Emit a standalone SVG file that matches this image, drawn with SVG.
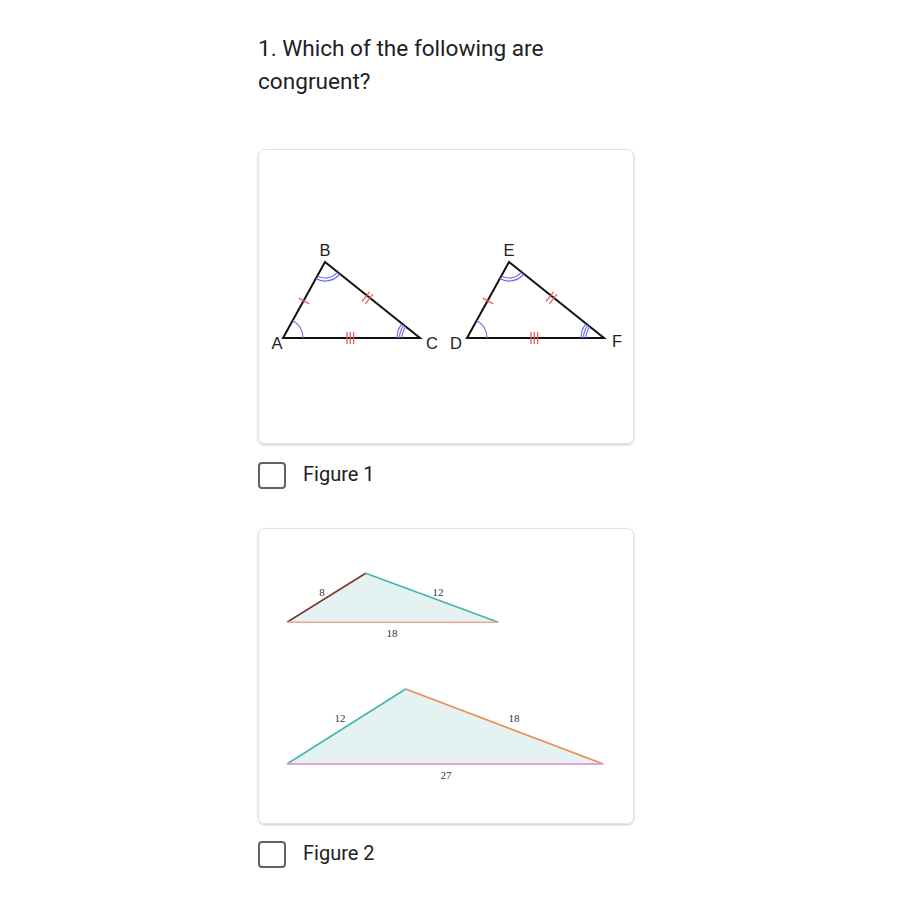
<svg xmlns="http://www.w3.org/2000/svg" xmlns:xlink="http://www.w3.org/1999/xlink" width="908" height="907" viewBox="0 0 908 907">
<defs>
<filter id="sh" x="-5%" y="-5%" width="110%" height="115%">
<feDropShadow dx="0" dy="1" stdDeviation="1.2" flood-color="#000" flood-opacity="0.22"/>
</filter>
<style>
.card{fill:#fff;stroke:#e3e3e3;stroke-width:1;filter:url(#sh)}
.q{font-family:Roboto,"Liberation Sans",sans-serif;font-size:22.6px;fill:#202124}
.opt{font-family:Roboto,"Liberation Sans",sans-serif;font-size:20px;fill:#202124}
.cb{fill:none;stroke:#5f6368;stroke-width:2}
.edge{fill:none;stroke:#111;stroke-width:2;stroke-linejoin:miter}
.tick{stroke:#e8605a;stroke-width:1.3;fill:none}
.arc{stroke:#7070e8;stroke-width:1.2;fill:none}
.lbl{font-family:"Liberation Sans",Arial,sans-serif;font-size:16.5px;fill:#222;text-anchor:middle}
.num{font-family:"Liberation Serif","Times New Roman",serif;font-size:11px;fill:#333;text-anchor:middle}
.fill{fill:#e5f2f2;stroke:none}
</style>
<g id="tri">
<path class="edge" d="M283 338 L325 262 L420 338 Z"/>
<path class="tick" d="M298.7 298.1 L309.3 303.9"/>
<path class="tick" d="M362.1 301.3 L369.5 291.9 M365.4 303.8 L372.8 294.4"/>
<path class="tick" d="M347 332 V344 M350.3 332 V344 M353.6 332 V344"/>
<path class="arc" d="M303 338 A20 20 0 0 0 292.7 320.5"/>
<path class="arc" d="M317.3 276 A16 16 0 0 0 337.4 272.1 M315.8 278.6 A19 19 0 0 0 339.8 274"/>
<path class="arc" d="M402 338 A18 18 0 0 1 405.9 326.75 M399.5 338 A20.5 20.5 0 0 1 404 325.2 M397 338 A23 23 0 0 1 402 323.6"/>
</g>
</defs>
<rect width="908" height="907" fill="#fff"/>
<g id="question">
<text class="q" x="258" y="56">1. Which of the following are</text>
<text class="q" x="258" y="89">congruent?</text>
</g>
<g id="card1">
<rect class="card" x="258.5" y="149.5" width="375" height="294" rx="6"/>
<g id="triangleABC">
<use xlink:href="#tri" href="#tri"/>
<text class="lbl" x="277" y="349">A</text>
<text class="lbl" x="325" y="256">B</text>
<text class="lbl" x="432" y="349">C</text>
</g>
<g id="triangleDEF">
<use xlink:href="#tri" href="#tri" transform="translate(184,0)"/>
<text class="lbl" x="456" y="349">D</text>
<text class="lbl" x="509" y="256">E</text>
<text class="lbl" x="617" y="347">F</text>
</g>
</g>
<g id="option1">
<rect class="cb" x="259" y="463" width="26" height="25" rx="3"/>
<text class="opt" x="303" y="481">Figure 1</text>
</g>
<g id="card2">
<rect class="card" x="258.5" y="528.5" width="375" height="295" rx="6"/>
<g id="triangleSmall">
<path class="fill" d="M287 622.3 L365.7 573.3 L498.3 622.3 Z"/>
<path d="M287 622.3 L365.7 573.3" stroke="#7a3a30" stroke-width="1.6"/>
<path d="M365.7 573.3 L498.3 622.3" stroke="#45b3b0" stroke-width="1.6"/>
<path d="M287 622.3 L498.3 622.3" stroke="#f0a894" stroke-width="1.6"/>
<text class="num" x="322" y="595.5">8</text>
<text class="num" x="438" y="595.5">12</text>
<text class="num" x="392" y="637">18</text>
</g>
<g id="triangleLarge">
<path class="fill" d="M287 764 L405.7 689 L603.3 764 Z"/>
<path d="M287 764 L405.7 689" stroke="#3fb6ae" stroke-width="1.6"/>
<path d="M405.7 689 L603.3 764" stroke="#e88c50" stroke-width="1.6"/>
<path d="M287 764 L603.3 764" stroke="#e5a2d8" stroke-width="1.8"/>
<text class="num" x="340" y="722">12</text>
<text class="num" x="514" y="722">18</text>
<text class="num" x="446" y="779">27</text>
</g>
</g>
<g id="option2">
<rect class="cb" x="259" y="842" width="26" height="25" rx="3"/>
<text class="opt" x="303" y="860">Figure 2</text>
</g>
</svg>
